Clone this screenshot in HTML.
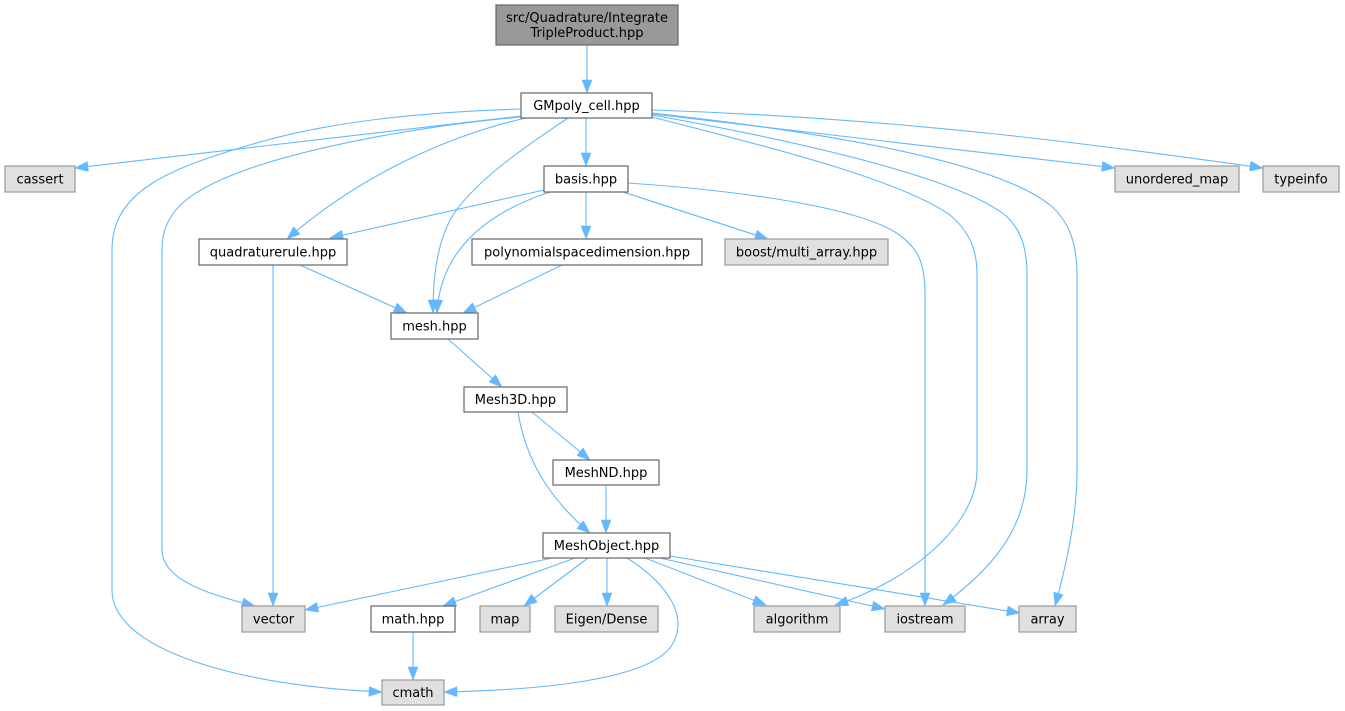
<!DOCTYPE html>
<html><head><meta charset="utf-8"><style>
html,body{margin:0;padding:0;background:#fff;}
svg{display:block;}
text{font-family:"DejaVu Sans","Liberation Sans",sans-serif;font-size:13px;fill:#000;text-anchor:middle;}
.e{fill:none;stroke:#63b8ff;stroke-width:1.1;marker-end:url(#ah);}
.w{fill:#fff;stroke:#666;stroke-width:1.2;}
.g{fill:#e0e0e0;stroke:#999;stroke-width:1.2;}
</style></head><body>
<svg width="1345" height="711" viewBox="0 0 1345 711" xmlns="http://www.w3.org/2000/svg">
<defs>
<marker id="ah" markerUnits="userSpaceOnUse" markerWidth="14" markerHeight="10" viewBox="0 0 13 10" refX="13" refY="5" orient="auto">
<path d="M0,0 L13,5 L0,10 z" fill="#63b8ff" stroke="#63b8ff" stroke-width="0.5"/>
</marker>
</defs>

<!-- edges -->
<path class="e" d="M587,45 L587,93"/>
<path class="e" d="M521,116 L75,168"/>
<path class="e" d="M521,109 C420,112 330,122 260,142 C170,168 112,190 112,250 L112,590 C112,650 240,686 382,692"/>
<path class="e" d="M521,117 C430,125 330,143 260,165 C190,188 162,210 162,250 L162,550 C162,580 210,595 255,606"/>
<path class="e" d="M526,118 C450,135 360,175 287,239"/>
<path class="e" d="M568,118 C520,150 470,185 450,220 C435,250 433,285 433,313"/>
<path class="e" d="M586,118 L586,166"/>
<path class="e" d="M652,117 C780,150 900,180 950,215 C970,232 977,250 977,275 L977,470 C977,530 900,585 835,605"/>
<path class="e" d="M652,115 C820,145 960,180 1005,215 C1022,230 1027,250 1027,275 L1027,470 C1027,530 990,570 943,605"/>
<path class="e" d="M652,113 C850,135 1000,165 1050,205 C1070,222 1077,245 1077,275 L1077,470 C1077,520 1065,570 1055,606"/>
<path class="e" d="M652,114 L1115,168"/>
<path class="e" d="M652,110 C900,118 1100,145 1263,168"/>

<path class="e" d="M544,190 L330,238"/>
<path class="e" d="M550,192 C480,215 440,255 437,313"/>
<path class="e" d="M586,192 L586,239"/>
<path class="e" d="M623,192 L768,239"/>
<path class="e" d="M628,183 C730,190 850,205 895,232 C920,248 925,265 925,295 L925,606"/>

<path class="e" d="M300,265 L407,313"/>
<path class="e" d="M562,265 L463,313"/>
<path class="e" d="M273,265 L273,606"/>

<path class="e" d="M448,339 L502,387"/>
<path class="e" d="M532,412 L590,460"/>
<path class="e" d="M518,412 C525,455 545,495 590,533"/>
<path class="e" d="M606,485 L606,533"/>

<path class="e" d="M552,558 L305,610"/>
<path class="e" d="M575,558 L443,606"/>
<path class="e" d="M588,558 L524,606"/>
<path class="e" d="M607,558 L607,606"/>
<path class="e" d="M627,558 C665,582 690,615 672,645 C650,680 540,690 444,692"/>
<path class="e" d="M645,558 L766,605"/>
<path class="e" d="M660,558 L885,609"/>
<path class="e" d="M670,556 L1020,613"/>
<path class="e" d="M413,632 L413,680"/>

<!-- nodes -->
<rect x="496" y="5" width="182" height="40" fill="#999" stroke="#666" stroke-width="1.2"/>
<text x="587" y="22">src/Quadrature/Integrate</text>
<text x="587" y="37">TripleProduct.hpp</text>

<rect class="w" x="521" y="93" width="131" height="25"/><text x="586.5" y="110">GMpoly_cell.hpp</text>
<rect class="g" x="5" y="166" width="70" height="26"/><text x="40" y="183.5">cassert</text>
<rect class="w" x="544" y="166" width="84" height="26"/><text x="586" y="183.5">basis.hpp</text>
<rect class="g" x="1115" y="166" width="124" height="26"/><text x="1177" y="183.5">unordered_map</text>
<rect class="g" x="1263" y="166" width="76" height="26"/><text x="1301" y="183.5">typeinfo</text>
<rect class="w" x="199" y="239" width="148" height="26"/><text x="273" y="256.5">quadraturerule.hpp</text>
<rect class="w" x="472" y="239" width="230" height="26"/><text x="587" y="256.5">polynomialspacedimension.hpp</text>
<rect class="g" x="725" y="239" width="163" height="26"/><text x="806.5" y="256.5">boost/multi_array.hpp</text>
<rect class="w" x="391" y="313" width="87" height="26"/><text x="434.5" y="330.5">mesh.hpp</text>
<rect class="w" x="464" y="387" width="103" height="25"/><text x="515.5" y="404">Mesh3D.hpp</text>
<rect class="w" x="553" y="460" width="106" height="25"/><text x="606" y="477">MeshND.hpp</text>
<rect class="w" x="543" y="533" width="127" height="25"/><text x="606.5" y="550">MeshObject.hpp</text>
<rect class="g" x="242" y="606" width="63" height="26"/><text x="273.5" y="623.5">vector</text>
<rect class="w" x="371" y="606" width="84" height="26"/><text x="413" y="623.5">math.hpp</text>
<rect class="g" x="480" y="606" width="50" height="26"/><text x="505" y="623.5">map</text>
<rect class="g" x="555" y="606" width="103" height="26"/><text x="606.5" y="623.5">Eigen/Dense</text>
<rect class="g" x="754" y="606" width="86" height="26"/><text x="797" y="623.5">algorithm</text>
<rect class="g" x="885" y="606" width="80" height="26"/><text x="925" y="623.5">iostream</text>
<rect class="g" x="1019" y="606" width="57" height="26"/><text x="1047.5" y="623.5">array</text>
<rect class="g" x="382" y="680" width="62" height="25"/><text x="413" y="697">cmath</text>
</svg>
</body></html>
